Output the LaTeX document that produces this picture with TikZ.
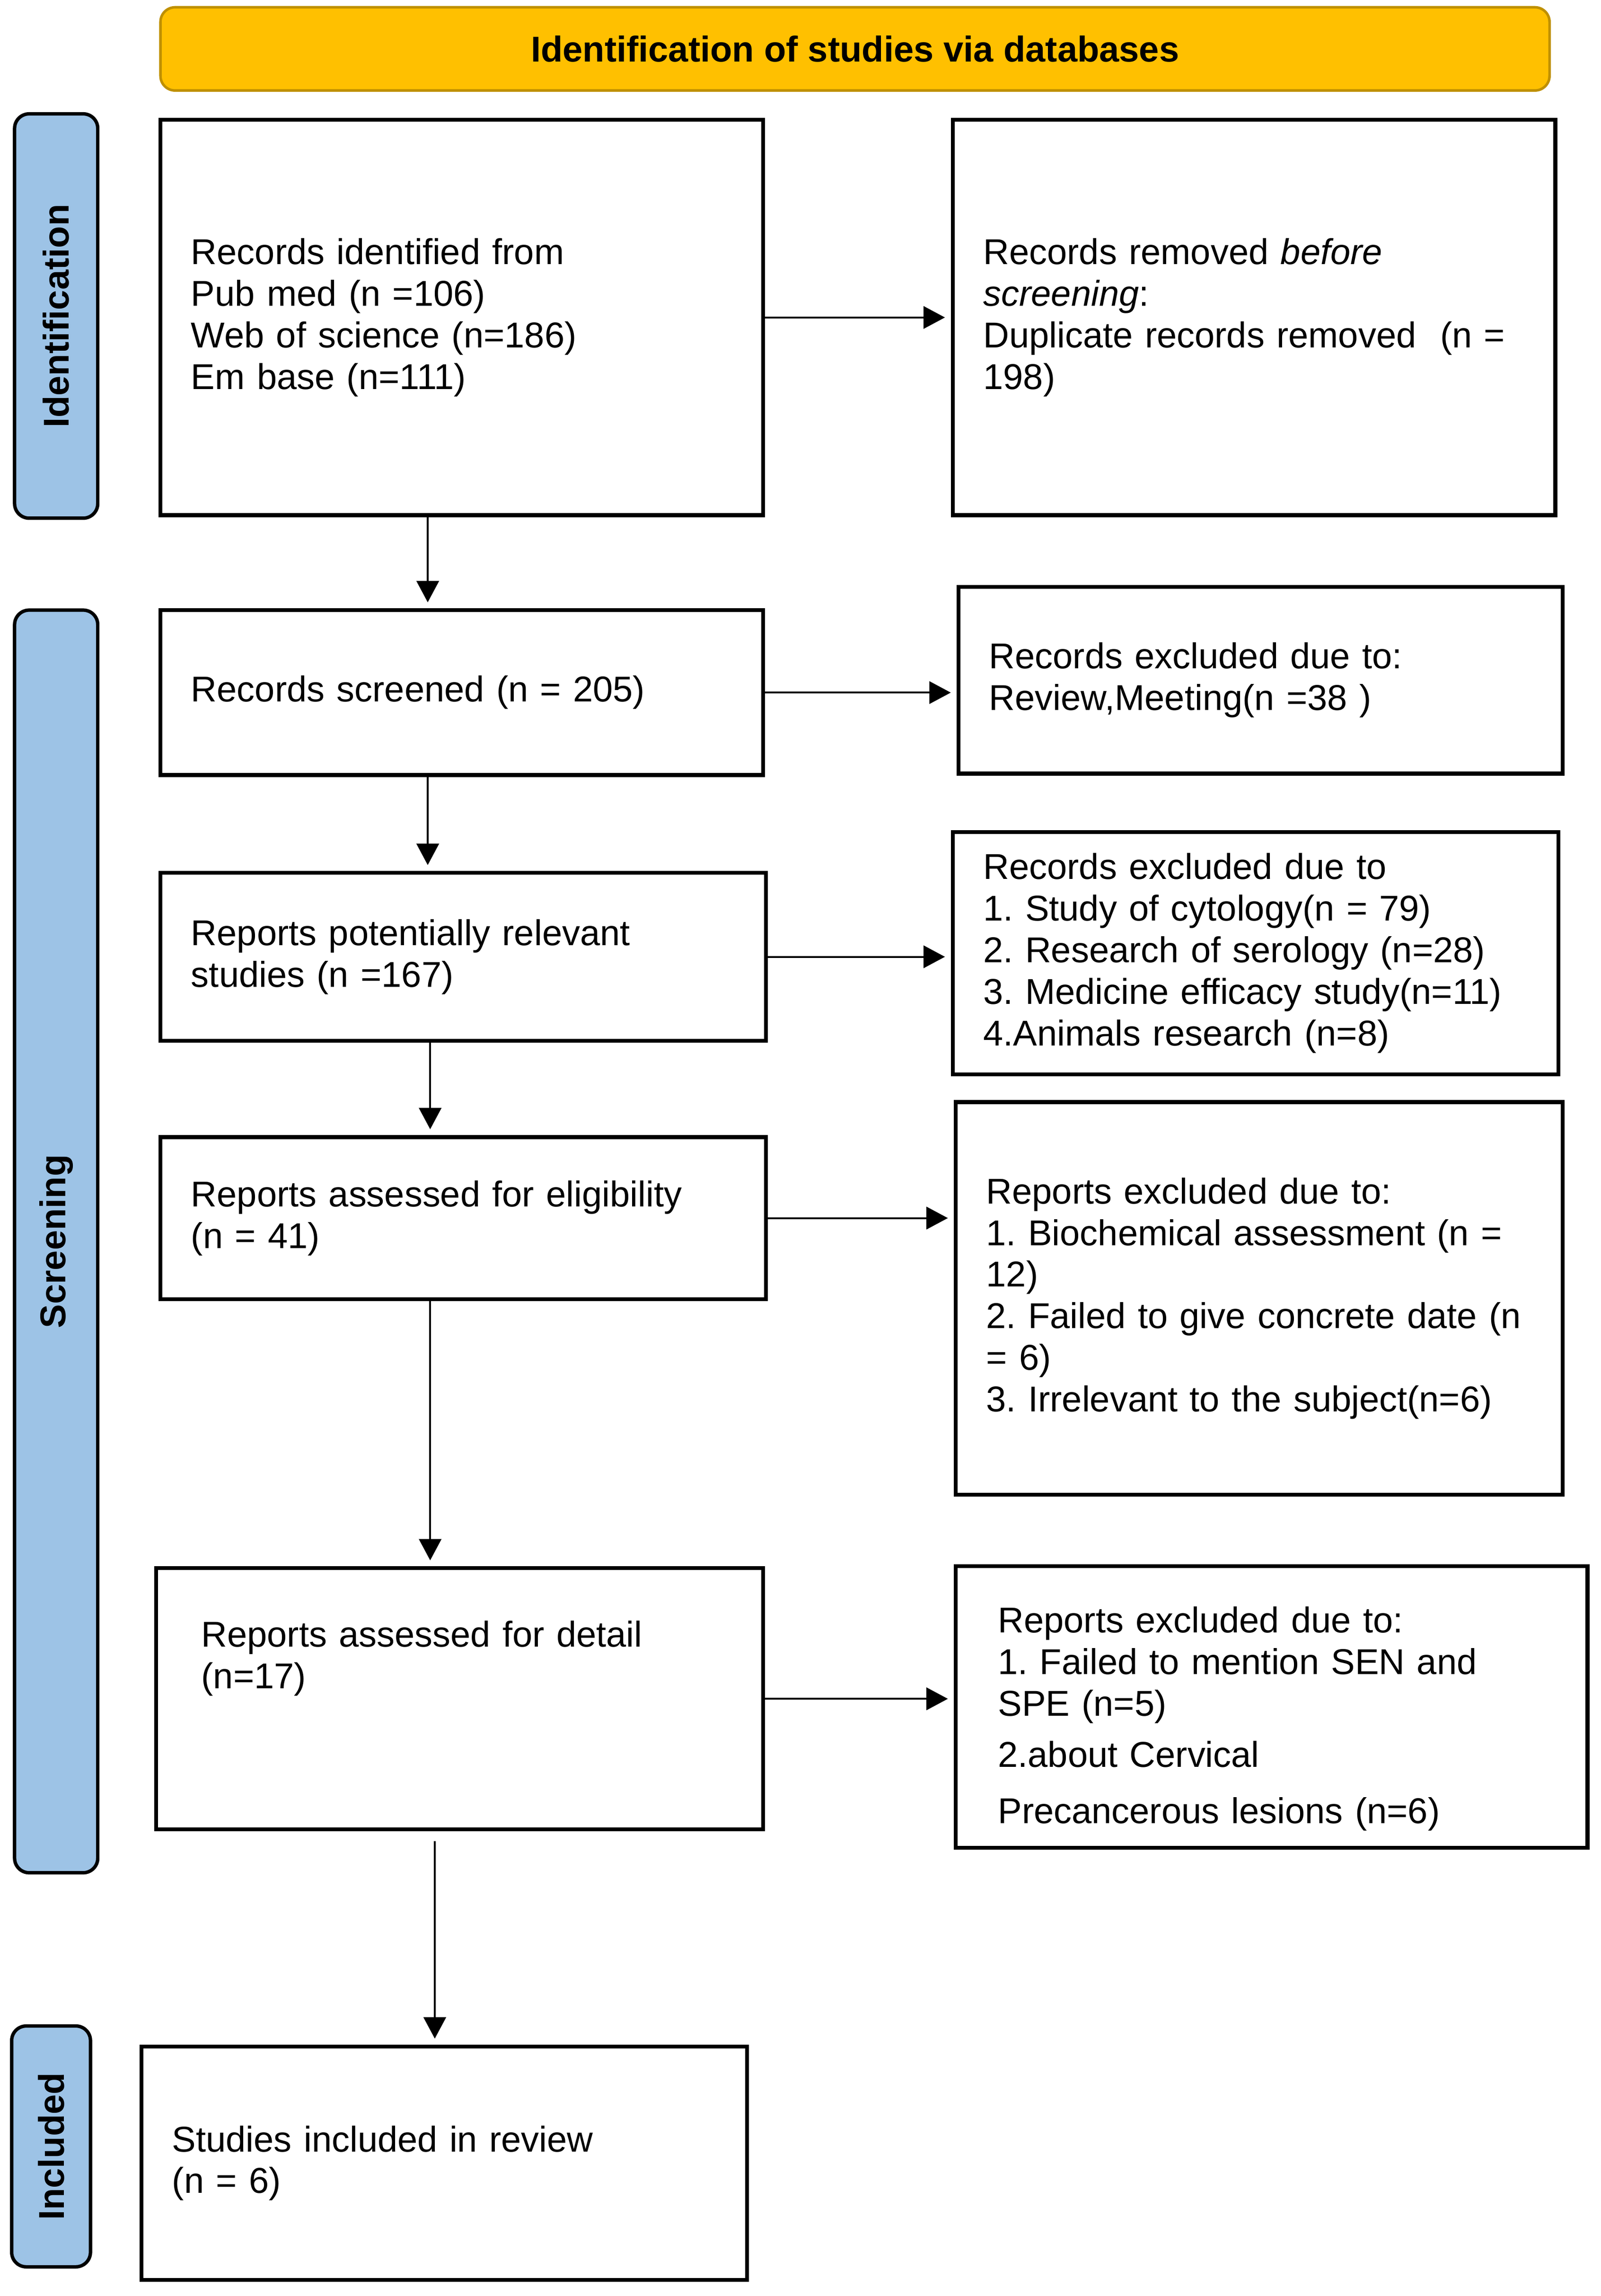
\documentclass[tikz,border=0pt]{standalone}
\usepackage{fontspec}
\setmainfont{Liberation Sans}
\usetikzlibrary{arrows.meta,positioning}
\definecolor{hdrfill}{HTML}{FFC000}
\definecolor{hdrline}{HTML}{BF9000}
\definecolor{stagefill}{HTML}{9DC3E6}
\newcommand{\boxfont}{\fontsize{21}{24.3}\selectfont}
\frenchspacing
\tikzset{
    %Define standard arrow tip
    >={Triangle[length=0.44cm,width=0.46cm]},
    %Define style for the title bar
    hdr/.style={
      rectangle,
      rounded corners=0.3cm,
      draw=hdrline, fill=hdrfill,
      line width=1.5pt,
      minimum width=28.56cm,
      minimum height=1.71cm,
      font=\boxfont\bfseries},
    %Define style for the stage bars on the left
    stagebar/.style={
      rectangle,
      rounded corners=0.3cm,
      draw=black, fill=stagefill,
      line width=2pt,
      rotate=90,
      minimum height=1.71cm,
      font=\boxfont\bfseries},
    %Define style for boxes
    box/.style={
      rectangle,
      draw=black, line width=2.3pt,
      inner xsep=0.63cm,
      align=left,
      font=\boxfont},
    % Define arrow style
    arr/.style={
      ->,
      line width=1.1pt,
      shorten >=0.12cm,}
}
\begin{document}
\begin{tikzpicture}[x=0.03cm, y=-0.03cm]
    \useasboundingbox (0,0) rectangle (1097,1573);

    \node[hdr] (hdr) at (586,33.5) {Identification of studies via databases};

    \node[stagebar, minimum width=8.31cm] (idbar) at (38.5,216.5) {Identification};
    \node[stagebar, minimum width=25.95cm] (scrbar) at (38.5,850.5) {Screening};
    \node[stagebar, minimum width=4.95cm, minimum height=1.62cm] (incbar) at (35,1470.5) {Included};

    % left column
    \node[box, text width=11.13cm, minimum height=8.13cm] (rec) at (316.5,217.5)
      {Records identified from\\Pub med (n =106)\\Web of science (n=186)\\Em base (n=111)};
    \node[box, text width=11.13cm, minimum height=3.39cm] (scr) at (316.5,474.5)
      {Records screened (n = 205)};
    \node[box, text width=11.19cm, minimum height=3.45cm] (rel) at (317.5,655.5)
      {Reports potentially relevant\\studies (n =167)};
    \node[box, text width=11.19cm, minimum height=3.33cm] (elig) at (317.5,834.5)
      {Reports assessed for eligibility\\(n = 41)};
    \node[box, anchor=north, inner xsep=0.93cm, text width=10.62cm, inner ysep=1.08cm,
      text height=0.54cm, text depth=2.67cm] (det) at (315,1073)
      {Reports assessed for detail\\(n=17)};
    \node[box, text width=11.19cm, minimum height=4.8cm] (stud) at (304.5,1482)
      {Studies included in review\\(n = 6)};

    % right column
    \node[box, text width=11.13cm, minimum height=8.13cm] (rem) at (859.5,217.5)
      {Records removed \textit{before}\\\textit{screening}:\\Duplicate records removed\ \ (n =\\198)};
    \node[box, text width=11.16cm, minimum height=3.84cm] (exc1) at (864,466)
      {Records excluded due to:\\Review,Meeting(n =38 )};
    \node[box, text width=11.19cm, minimum height=4.98cm] (exc2) at (860.5,653)
      {Records excluded due to\\1. Study of cytology(n = 79)\\2. Research of serology (n=28)\\3. Medicine efficacy study(n=11)\\4.Animals research (n=8)};
    \node[box, text width=11.22cm, minimum height=8.07cm] (exc3) at (863,889.5)
      {Reports excluded due to:\\1. Biochemical assessment (n =\\12)\\2. Failed to give concrete date (n\\= 6)\\3. Irrelevant to the subject(n=6)};
    \node[box, inner xsep=0.87cm, text width=11.25cm, minimum height=5.79cm, text height=1.02cm] (exc4) at (871.5,1169.5)
      {Reports excluded due to:\\1. Failed to mention SEN and\\SPE (n=5)\\[0.2cm]2.about Cervical\\[0.3cm]Precancerous lesions (n=6)};

    % arrows to the side
    \draw[arr] (rec.east) -- (rec.east -| rem.west);
    \draw[arr] (scr.east) -- (scr.east -| exc1.west);
    \draw[arr] (rel.east) -- (rel.east -| exc2.west);
    \draw[arr] (elig.east) -- (elig.east -| exc3.west);
    \draw[arr] (det.east) -- (det.east -| exc4.west);

    % arrows down
    \draw[arr] ([xshift=-0.7cm]rec.south) -- ([xshift=-0.7cm]rec.south |- scr.north);
    \draw[arr] ([xshift=-0.7cm]scr.south) -- ([xshift=-0.7cm]scr.south |- rel.north);
    \draw[arr] ([xshift=-0.68cm]rel.south) -- ([xshift=-0.68cm]rel.south |- elig.north);
    \draw[arr] ([xshift=-0.68cm]elig.south) -- ([xshift=-0.68cm]elig.south |- det.north);
    \draw[arr] ([xshift=-0.51cm,yshift=-0.2cm]det.south) -- ([xshift=-0.51cm]det.south |- stud.north);
\end{tikzpicture}
\end{document}
